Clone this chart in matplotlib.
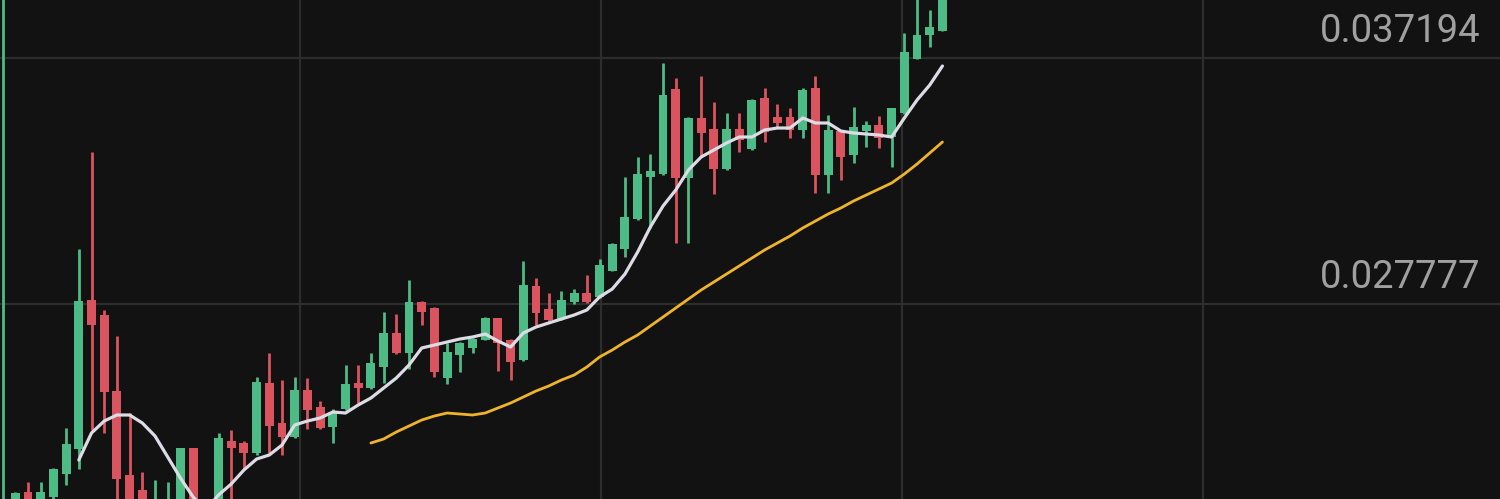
"""
Candlestick crop with two moving averages, dark theme.
"""

import numpy as np
import matplotlib.pyplot as plt

# ------------------------------------------------------------------
# OHLC per candle (first one is the cut-off bar at the left edge)
open_ = [
    0.018743,
    0.020083, 0.020580, 0.020083, 0.020389, 0.021269, 0.022226, 0.027930, 0.027356, 0.024447, 0.021231,
    0.020657, 0.019508, 0.019508, 0.019891, 0.022265, 0.019126, 0.020083, 0.022533, 0.022456, 0.022073,
    0.024753, 0.023222, 0.022686, 0.024485, 0.023834, 0.023068, 0.023757, 0.024753, 0.024561, 0.025365,
    0.026667, 0.025901, 0.027853, 0.027624, 0.024944, 0.025825, 0.026093, 0.026399, 0.027241, 0.026399,
    0.025633, 0.028466, 0.027585, 0.027203, 0.027853, 0.028198, 0.028045, 0.029040, 0.029882, 0.031031,
    0.032638, 0.032753, 0.036007, 0.032600, 0.034897, 0.034476, 0.032945, 0.034476, 0.033710, 0.035663,
    0.034935, 0.034935, 0.034438, 0.036045, 0.032715, 0.034399, 0.033481, 0.034399, 0.034629, 0.034170,
    0.035088, 0.037155, 0.038074, 0.038227,
]
high = [
    0.040180,
    0.020580, 0.020963, 0.020963, 0.021499, 0.023030, 0.029882, 0.033595, 0.027547, 0.026552, 0.023604,
    0.021346, 0.021040, 0.020963, 0.022265, 0.022265, 0.020083, 0.022839, 0.022954, 0.022533, 0.024982,
    0.025901, 0.024868, 0.024982, 0.024944, 0.024064, 0.023757, 0.025442, 0.025442, 0.025901, 0.027471,
    0.027394, 0.028696, 0.027892, 0.027662, 0.026284, 0.026322, 0.026475, 0.027279, 0.027241, 0.026437,
    0.029423, 0.028772, 0.028198, 0.028275, 0.028351, 0.028887, 0.029499, 0.030112, 0.032638, 0.033404,
    0.033519, 0.037002, 0.036428, 0.034935, 0.036505, 0.035509, 0.035088, 0.035088, 0.035624, 0.036045,
    0.035433, 0.035280, 0.036045, 0.036505, 0.035012, 0.034438, 0.035318, 0.034782, 0.034974, 0.035280,
    0.038151, 0.039797, 0.039031, 0.039988,
]
low = [
    0.017977,
    0.019891, 0.019891, 0.019891, 0.020274, 0.020848, 0.021461, 0.022954, 0.022839, 0.020083, 0.019891,
    0.019700, 0.019317, 0.019317, 0.019700, 0.019700, 0.018743, 0.019891, 0.020083, 0.021461, 0.021997,
    0.022073, 0.021997, 0.022647, 0.022992, 0.022992, 0.022456, 0.023719, 0.023987, 0.024523, 0.024753,
    0.025863, 0.025289, 0.026973, 0.024982, 0.024714, 0.025174, 0.025901, 0.026399, 0.025212, 0.024868,
    0.025595, 0.026973, 0.027126, 0.027164, 0.027777, 0.027815, 0.028007, 0.029040, 0.029576, 0.030992,
    0.030686, 0.032715, 0.030112, 0.030112, 0.033404, 0.031988, 0.032906, 0.033595, 0.033672, 0.033978,
    0.034552, 0.034131, 0.034131, 0.032026, 0.032026, 0.032524, 0.033174, 0.033787, 0.033749, 0.033021,
    0.035050, 0.037155, 0.037615, 0.038227,
]
close = [
    0.019891,
    0.020542, 0.020083, 0.020580, 0.021461, 0.022418, 0.027892, 0.026973, 0.024408, 0.021078, 0.020083,
    0.019891, 0.019891, 0.019891, 0.022265, 0.019891, 0.018934, 0.022647, 0.022265, 0.022073, 0.024791,
    0.023107, 0.022686, 0.024485, 0.023719, 0.023030, 0.023604, 0.024714, 0.024561, 0.025518, 0.026667,
    0.025901, 0.027853, 0.027471, 0.025174, 0.025939, 0.026284, 0.026437, 0.027241, 0.026284, 0.025557,
    0.028504, 0.027432, 0.027164, 0.027930, 0.028198, 0.027853, 0.029270, 0.030074, 0.031107, 0.032753,
    0.032868, 0.035777, 0.032600, 0.034897, 0.034323, 0.032945, 0.034476, 0.034055, 0.035586, 0.034361,
    0.034706, 0.034438, 0.035969, 0.032715, 0.034438, 0.033404, 0.034552, 0.034629, 0.034131, 0.035280,
    0.037423, 0.038074, 0.038380, 0.039797,
]

nan = np.nan
ma_fast = [
    nan,
    nan, nan, nan, nan, nan, 0.021805, 0.022839, 0.023298, 0.023528, 0.023528,
    0.023222, 0.022724, 0.021920, 0.021116, 0.020389, 0.019891, 0.020465, 0.020886, 0.021422, 0.021843,
    0.021997, 0.022379, 0.023145, 0.023298, 0.023413, 0.023643, 0.023604, 0.023911, 0.024179, 0.024561,
    0.024944, 0.025442, 0.026093, 0.026207, 0.026322, 0.026437, 0.026514, 0.026628, 0.026361, 0.026131,
    0.026667, 0.026896, 0.027050, 0.027203, 0.027356, 0.027547, 0.028045, 0.028351, 0.028925, 0.029767,
    0.030724, 0.031528, 0.032141, 0.032906, 0.033404, 0.033672, 0.033940, 0.034170, 0.034170, 0.034438,
    0.034514, 0.034514, 0.034897, 0.034706, 0.034706, 0.034399, 0.034323, 0.034284, 0.034246, 0.034170,
    0.034897, 0.035586, 0.036160, 0.036888,
]
ma_slow = [
    nan,
    nan, nan, nan, nan, nan, nan, nan, nan, nan, nan,
    nan, nan, nan, nan, nan, nan, nan, nan, nan, nan,
    nan, nan, nan, nan, nan, nan, nan, nan, 0.022456, 0.022609,
    0.022877, 0.023107, 0.023336, 0.023490, 0.023604, 0.023566, 0.023528, 0.023604, 0.023796, 0.023987,
    0.024217, 0.024447, 0.024638, 0.024868, 0.025059, 0.025365, 0.025748, 0.026016, 0.026322, 0.026590,
    0.026935, 0.027279, 0.027624, 0.027968, 0.028313, 0.028619, 0.028925, 0.029232, 0.029538, 0.029844,
    0.030112, 0.030380, 0.030686, 0.030954, 0.031222, 0.031452, 0.031720, 0.031949, 0.032179, 0.032409,
    0.032753, 0.033136, 0.033557, 0.033978,
]

price_levels = [0.037194, 0.027777]

# ------------------------------------------------------------------
BG = "#121212"
UP = "#4dbb86"
DOWN = "#d9545e"
GRID = "#2d2d2d"

o = np.array(open_); h = np.array(high); l = np.array(low); c = np.array(close)
x = np.arange(-1, len(o) - 1)
up = c >= o
colors = np.where(up, UP, DOWN)

fig = plt.figure(figsize=(15, 4.99), dpi=100, facecolor=BG)
ax = fig.add_axes([0, 0, 1, 1])
ax.set_facecolor(BG)

# grid
for p in price_levels:
    ax.axhline(p, color=GRID, lw=1.6, zorder=0)
for k in range(4):
    ax.axvline(22.42 + k * 23.7, color=GRID, lw=1.6, zorder=0)

# candles
ax.vlines(x, l, h, colors=colors, lw=2.0, zorder=2)
bottoms = np.minimum(o, c)
heights = np.maximum(np.abs(c - o), 0.00004)
ax.bar(x, heights, bottom=bottoms, width=0.7, color=colors, lw=0, zorder=3)

# moving averages
ax.plot(x, ma_fast, color="#dcdce6", lw=2.3, zorder=4,
        solid_capstyle="round", solid_joinstyle="round")
ax.plot(x, ma_slow, color="#f0b42a", lw=2.0, zorder=4,
        solid_capstyle="round", solid_joinstyle="round")

# price labels on the right, just above their grid line
for p in price_levels:
    ax.annotate(f"{p:.6f}", xy=(0.987, p), xycoords=("axes fraction", "data"),
                xytext=(0, 6), textcoords="offset points",
                ha="right", va="bottom", fontsize=27.5, color="#a0a0a0",
                family=["Roboto", "DejaVu Sans"])

ax.set_xlim(-1.205, 116.9)
ax.set_ylim(0.0203125, 0.0394143)
ax.axis("off")

fig.savefig("out.png", dpi=100, facecolor=BG)
